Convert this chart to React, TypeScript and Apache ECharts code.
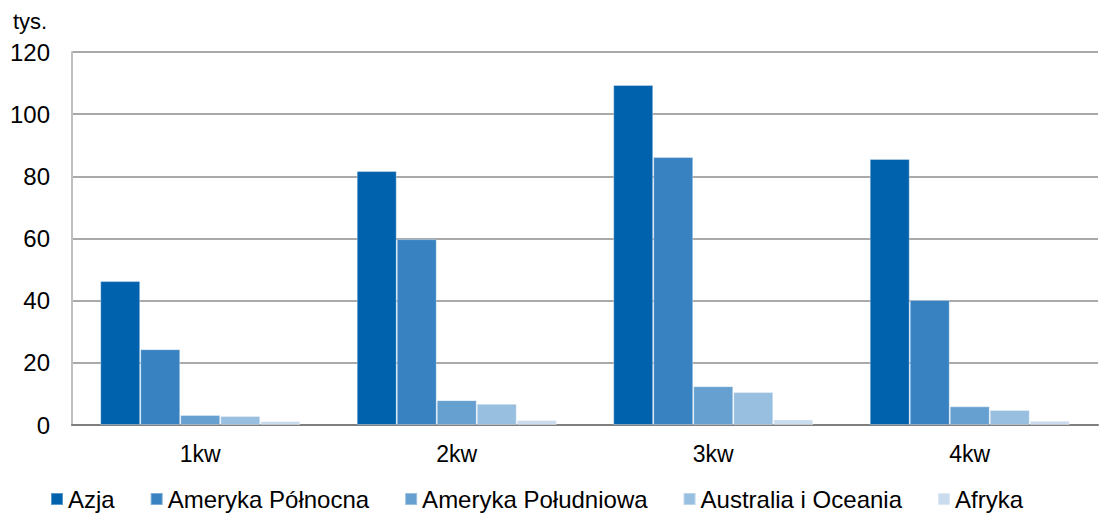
import React, { useEffect, useRef } from "react";
import * as echarts from "echarts";

const categories = ["1kw", "2kw", "3kw", "4kw"];
const seriesNames = ["Azja", "Ameryka Północna", "Ameryka Południowa", "Australia i Oceania", "Afryka"];
const azja = [46.3, 81.7, 109.4, 85.6];
const amerykaPn = [24.4, 59.8, 86.2, 40.2];
const amerykaPd = [3.2, 8.0, 12.5, 6.0];
const australia = [2.9, 6.8, 10.6, 4.8];
const afryka = [1.3, 1.6, 1.8, 1.4];
const colors = ["#0062ad", "#3882c2", "#65a0d0", "#98bfe0", "#cadcee"];
const yTicks = [0, 20, 40, 60, 80, 100, 120];

export default function App() {
  const ref = useRef<HTMLDivElement>(null);
  useEffect(() => {
    if (!ref.current) return;
    const chart = echarts.init(ref.current, null, { renderer: "svg" });
    const data = [azja, amerykaPn, amerykaPd, australia, afryka];
    const font = "Liberation Sans, Arial, sans-serif";
    chart.setOption({
      animation: false,
      color: colors,
      textStyle: { fontFamily: font },
      grid: { left: 72, right: 1, top: 52, bottom: 90, containLabel: false },
      title: {
        text: "tys.",
        left: 8,
        top: 5,
        textStyle: { fontSize: 22, fontWeight: "normal", color: "#000", fontFamily: font },
      },
      legend: {
        bottom: -1,
        left: 45,
        itemWidth: 12,
        itemHeight: 12,
        itemGap: 35,
        icon: "rect",
        textStyle: { fontSize: 24, color: "#000", fontFamily: font },
        data: seriesNames,
      },
      xAxis: {
        type: "category",
        data: categories,
        axisLine: { lineStyle: { color: "#7f7f7f", width: 2 } },
        axisTick: { show: false },
        axisLabel: { fontSize: 23, color: "#000", margin: 17, fontFamily: font },
      },
      yAxis: {
        type: "value",
        min: 0,
        max: yTicks[yTicks.length - 1],
        interval: 20,
        axisLine: { show: true, lineStyle: { color: "#c0c0c0", width: 2 } },
        axisTick: { show: false },
        splitLine: { lineStyle: { color: "#8c8c8c", width: 1.5 } },
        axisLabel: { fontSize: 24, color: "#000", margin: 22, fontFamily: font },
      },
      series: seriesNames.map((name, i) => ({
        name,
        type: "bar",
        data: data[i],
        barGap: "0%",
        barCategoryGap: "22%",
        itemStyle: { color: colors[i], borderColor: "rgba(255,255,255,0.35)", borderWidth: 1 },
      })),
    });
    return () => chart.dispose();
  }, []);
  return (
    <div
      ref={ref}
      style={{ position: "fixed", left: 0, top: 0, width: 1099, height: 515, background: "#fff" }}
    />
  );
}
